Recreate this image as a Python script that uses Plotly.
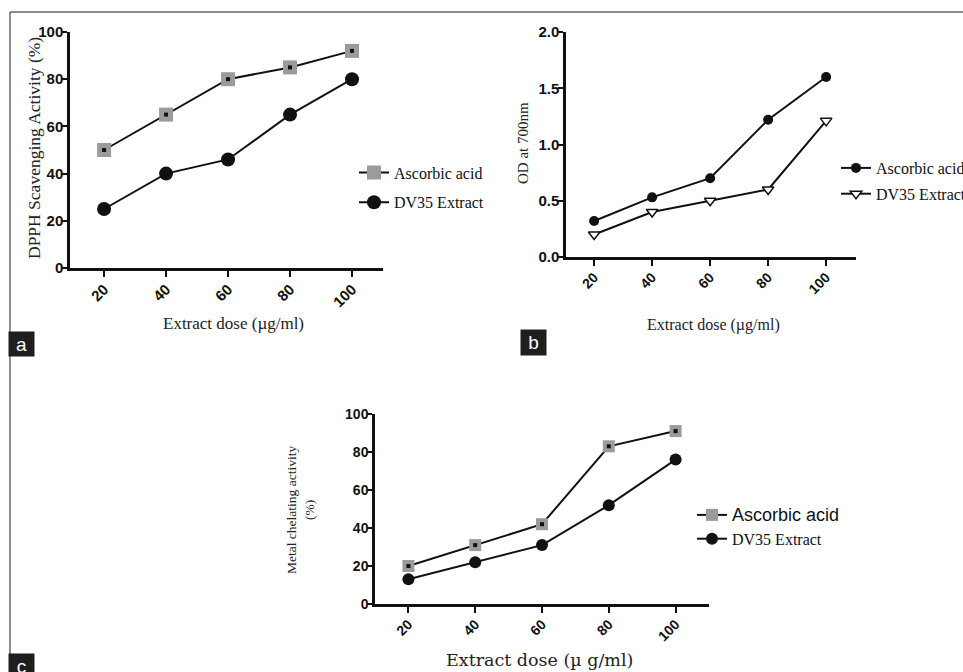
import plotly.graph_objects as go

W, H = 963, 672

dose = [20, 40, 60, 80, 100]
dpph_ascorbic = [50, 65, 80, 85, 92]
dpph_dv35 = [25, 40, 46, 65, 80]
od_ascorbic = [0.32, 0.53, 0.70, 1.22, 1.60]
od_dv35 = [0.20, 0.40, 0.50, 0.60, 1.21]
chel_ascorbic = [20, 31, 42, 83, 91]
chel_dv35 = [13, 22, 31, 52, 76]

series_names = ["Ascorbic acid", "DV35 Extract"]
x_title = "Extract dose (µg/ml)"
x_title_c = "Extract dose (µ g/ml)"
y_titles = ["DPPH Scavenging Activity (%)", "OD at 700nm", "Metal chelating activity<br>(%)"]
panel_labels = ["a", "b", "c"]


def px_x(x):
    return x / W


def px_y(y):
    return 1 - y / H


SERIF = "Liberation Serif, Times New Roman, serif"
SANS = "Liberation Sans, Arial, sans-serif"
GRAY = "#9b9b9b"
BLACK = "#111111"

fig = go.Figure()

# ---------- panel a ----------
fig.add_trace(go.Scatter(x=dose, y=dpph_ascorbic, mode="lines+markers", name=series_names[0],
                         line=dict(color=BLACK, width=2),
                         marker=dict(symbol="square", size=14, color=GRAY),
                         xaxis="x", yaxis="y", legend="legend", legendgroup="a1"))
fig.add_trace(go.Scatter(x=dose, y=dpph_ascorbic, mode="markers", showlegend=False,
                         marker=dict(symbol="square", size=4, color=BLACK),
                         xaxis="x", yaxis="y"))
fig.add_trace(go.Scatter(x=dose, y=dpph_dv35, mode="lines+markers", name=series_names[1],
                         line=dict(color=BLACK, width=2),
                         marker=dict(symbol="circle", size=14, color=BLACK),
                         xaxis="x", yaxis="y", legend="legend", legendgroup="a2"))

# ---------- panel b ----------
fig.add_trace(go.Scatter(x=dose, y=od_ascorbic, mode="lines+markers", name=series_names[0],
                         line=dict(color=BLACK, width=2),
                         marker=dict(symbol="circle", size=10, color=BLACK),
                         xaxis="x2", yaxis="y2", legend="legend2", legendgroup="b1"))
fig.add_trace(go.Scatter(x=dose, y=od_dv35, mode="lines+markers", name=series_names[1],
                         line=dict(color=BLACK, width=2),
                         marker=dict(symbol="triangle-down", size=10, color="white",
                                     line=dict(color=BLACK, width=1.5)),
                         xaxis="x2", yaxis="y2", legend="legend2", legendgroup="b2"))

# ---------- panel c ----------
fig.add_trace(go.Scatter(x=dose, y=chel_ascorbic, mode="lines+markers",
                         name='<span style="font-family:Liberation Sans, Arial, sans-serif;font-size:18px">'
                              + series_names[0] + "</span>",
                         line=dict(color=BLACK, width=2),
                         marker=dict(symbol="square", size=12, color=GRAY),
                         xaxis="x3", yaxis="y3", legend="legend3", legendgroup="c1"))
fig.add_trace(go.Scatter(x=dose, y=chel_ascorbic, mode="markers", showlegend=False,
                         marker=dict(symbol="square", size=4, color=BLACK),
                         xaxis="x3", yaxis="y3"))
fig.add_trace(go.Scatter(x=dose, y=chel_dv35, mode="lines+markers", name=series_names[1],
                         line=dict(color=BLACK, width=2),
                         marker=dict(symbol="circle", size=12, color=BLACK),
                         xaxis="x3", yaxis="y3", legend="legend3", legendgroup="c2"))


def xaxis(domain, rng, anchor, fs):
    return dict(domain=domain, range=rng, anchor=anchor, tickmode="array", tickvals=dose,
                ticktext=[str(d) for d in dose], tickangle=-45, showline=True, linewidth=2.5,
                linecolor=BLACK, ticks="outside", ticklen=6, tickwidth=2, tickcolor=BLACK,
                showgrid=False, zeroline=False, ticklabelstandoff=-2,
                tickfont=dict(family=SANS, size=fs, color=BLACK, weight="bold"))


def yaxis(domain, rng, dtick, anchor, fs, fmt=None):
    d = dict(domain=domain, range=rng, anchor=anchor, dtick=dtick, tick0=0, showline=True,
             linewidth=2.5, linecolor=BLACK, ticks="outside", ticklen=5, tickwidth=2,
             tickcolor=BLACK, showgrid=False, zeroline=False, ticklabelstandoff=-4,
             tickfont=dict(family=SANS, size=fs, color=BLACK, weight="bold"))
    if fmt:
        d["tickformat"] = fmt
    return d


layout = dict(
    width=W, height=H, margin=dict(l=0, r=0, t=0, b=0, autoexpand=False),
    paper_bgcolor="white", plot_bgcolor="white", showlegend=True,
    xaxis=xaxis([px_x(70), px_x(383)], [9, 110], "y", 15),
    yaxis=yaxis([px_y(268), px_y(32)], [0, 100], 20, "x", 15),
    xaxis2=xaxis([px_x(566), px_x(856)], [10.3, 110.3], "y2", 14),
    yaxis2=yaxis([px_y(257), px_y(32)], [0, 2], 0.5, "x2", 15, ".1f"),
    xaxis3=xaxis([px_x(375), px_x(709)], [10, 110], "y3", 14),
    yaxis3=yaxis([px_y(604), px_y(414)], [0, 100], 20, "x3", 14),
    legend=dict(x=px_x(354), y=px_y(187.5), xanchor="left", yanchor="middle",
                font=dict(family=SERIF, size=16, color=BLACK), bgcolor="rgba(0,0,0,0)",
                tracegroupgap=6, itemwidth=30),
    legend2=dict(x=px_x(836), y=px_y(181), xanchor="left", yanchor="middle",
                 font=dict(family=SERIF, size=16, color=BLACK), bgcolor="rgba(0,0,0,0)",
                 tracegroupgap=2, itemwidth=30),
    legend3=dict(x=px_x(692), y=px_y(527), xanchor="left", yanchor="middle",
                 font=dict(family=SERIF, size=16, color=BLACK), bgcolor="rgba(0,0,0,0)",
                 tracegroupgap=0, itemwidth=30),
)
fig.update_layout(**layout)

annotations = [
    # axis titles
    dict(x=px_x(233), y=px_y(323), text=x_title, font=dict(family=SERIF, size=17, color="#222")),
    dict(x=px_x(713), y=px_y(325), text=x_title, font=dict(family=SERIF, size=16, color="#222")),
    dict(x=px_x(539), y=px_y(660), text=x_title_c, font=dict(family="DejaVu Serif, serif", size=17.5, color="#222")),
    dict(x=px_x(34), y=px_y(148), text=y_titles[0], textangle=-90,
         font=dict(family=SERIF, size=17.5, color="#222")),
    dict(x=px_x(523), y=px_y(143), text=y_titles[1], textangle=-90,
         font=dict(family=SERIF, size=15, color="#222")),
    dict(x=px_x(300), y=px_y(510), text=y_titles[2], textangle=-90,
         font=dict(family=SERIF, size=13.5, color="#222")),
    # panel labels
    dict(x=px_x(21.5), y=px_y(344), text=panel_labels[0], width=23, height=22, bgcolor="#1e1e1e",
         font=dict(family=SANS, size=19, color="white")),
    dict(x=px_x(533.5), y=px_y(342.5), text=panel_labels[1], width=23, height=23, bgcolor="#1e1e1e",
         font=dict(family=SANS, size=19, color="white")),
    dict(x=px_x(21.5), y=px_y(666), text=panel_labels[2], width=23, height=22, bgcolor="#1e1e1e",
         font=dict(family=SANS, size=19, color="white")),
]
for a in annotations:
    a.update(xref="paper", yref="paper", showarrow=False, xanchor="center", yanchor="middle")
fig.update_layout(annotations=annotations)

fig.update_layout(shapes=[
    dict(type="line", xref="paper", yref="paper", x0=px_x(10), x1=1, y0=px_y(12), y1=px_y(12),
         line=dict(color="#666", width=1.5)),
    dict(type="line", xref="paper", yref="paper", x0=px_x(10), x1=px_x(10), y0=px_y(12), y1=0,
         line=dict(color="#666", width=1.5)),
])

fig.write_html("out.html", config={"displayModeBar": False},
               post_script="document.body.style.margin='0';document.body.style.overflow='hidden';")
